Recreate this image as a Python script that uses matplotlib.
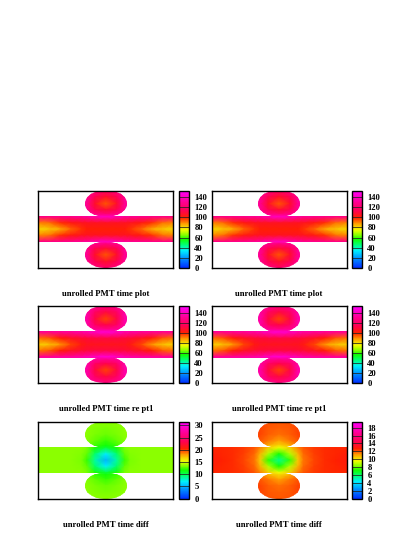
import numpy as np
import matplotlib
matplotlib.use("Agg")
import matplotlib.pyplot as plt
from matplotlib.colors import LinearSegmentedColormap
from matplotlib.path import Path
from matplotlib.patches import PathPatch
from matplotlib.transforms import Affine2D

plt.rcParams["font.family"] = ["Liberation Serif", "DejaVu Serif"]
plt.rcParams["font.weight"] = "bold"

W, H = 415, 537

# grid nodes, left half and top half only (the detector map is symmetric)
x_half = [0, .08, .16, .24, .32, .36, .42, .5]
y_half = [0, .08, .17, .25, .31, .34, .42, .5]

time_plot = [
    [130, 130, 130, 130, 130, 130, 125, 120],
    [130, 130, 130, 130, 130, 130, 114, 106],
    [130, 130, 130, 130, 130, 130, 106, 94],
    [130, 130, 130, 130, 130, 130, 114, 108],
    [130, 130, 130, 130, 130, 132, 128, 126],
    [126, 126, 127, 128, 130, 132, 136, 140],
    [90, 92, 98, 102, 104, 105, 105, 105],
    [80, 82, 86, 93, 98, 100, 100, 100],
]
time_re_pt1 = [
    [134, 134, 134, 134, 134, 134, 130, 126],
    [134, 134, 134, 134, 134, 134, 118, 110],
    [134, 134, 134, 134, 134, 134, 110, 96],
    [134, 134, 134, 134, 134, 134, 118, 112],
    [134, 134, 134, 134, 134, 136, 132, 130],
    [130, 130, 131, 132, 134, 136, 140, 144],
    [92, 94, 100, 105, 108, 109, 110, 110],
    [81, 83, 88, 96, 102, 104, 104, 104],
]
diff_left = [
    [13.5, 13.5, 13.5, 13.5, 13.5, 13.5, 13.5, 13.5],
    [13.5, 13.5, 13.5, 13.5, 13.5, 13.5, 13.3, 13.2],
    [13.5, 13.5, 13.5, 13.5, 13.5, 13.5, 13.2, 13],
    [13.5, 13.5, 13.5, 13.5, 13.5, 13.3, 12.8, 12.3],
    [13.5, 13.5, 13.5, 13.5, 13.5, 13.2, 12.3, 11.5],
    [13.5, 13.5, 13.5, 13.5, 13.5, 13.2, 11.8, 10.5],
    [13.5, 13.5, 13.5, 13.5, 13.4, 12.8, 9.5, 7],
    [13.5, 13.5, 13.5, 13.5, 13.2, 12.2, 8.5, 5],
]
diff_right = [
    [12.2, 12.2, 12.2, 12.2, 12.2, 12.2, 12.1, 12],
    [12.2, 12.2, 12.2, 12.2, 12.2, 12.2, 12, 11.9],
    [12.2, 12.2, 12.2, 12.2, 12.2, 12.2, 11.9, 11.7],
    [12.2, 12.2, 12.2, 12.2, 12.2, 12, 11.6, 11.1],
    [12.2, 12.2, 12.2, 12.2, 12.1, 11.7, 10.8, 10.2],
    [12.6, 12.6, 12.5, 12.4, 12, 11.5, 10.3, 9.5],
    [12.8, 12.6, 12.5, 12.3, 11.8, 10.8, 8.8, 7.2],
    [12.9, 12.7, 12.5, 12.2, 11.6, 10.4, 7.5, 5.5],
]

titles = ["unrolled PMT time plot", "unrolled PMT time plot",
          "unrolled PMT time re pt1", "unrolled PMT time re pt1",
          "unrolled PMT time diff", "unrolled PMT time diff"]
maps = [time_plot, time_plot, time_re_pt1, time_re_pt1, diff_left, diff_right]
vmaxes = [153, 153, 153, 153, 31.5, 19.5]
ticks = [list(range(0, 141, 20))] * 4 + [list(range(0, 31, 5)), list(range(0, 19, 2))]

palette = LinearSegmentedColormap.from_list("pal", [
    (0, "#0030ff"), (.12, "#0090ff"), (.22, "#00f0ff"), (.29, "#00ff80"),
    (.37, "#10ff00"), (.43, "#90ff00"), (.49, "#f0ff00"), (.57, "#ffa000"),
    (.65, "#ff2000"), (.74, "#ff0050"), (.85, "#ff0090"), (1, "#ff00ff")])

col_left = [38.3, 211.5]
bar_left = [179, 352]
row_top = [190.7, 306, 421.7]
title_y = [294, 409, 525]
title_x = [106, 279]

fig = plt.figure(figsize=(W / 100, H / 100), dpi=100)


def box(left, top, w, h):
    return [left / W, 1 - (top + h) / H, w / W, h / H]


x_nodes = np.r_[x_half, 1 - np.array(x_half[-2::-1])]
y_nodes = np.r_[y_half, 1 - np.array(y_half[-2::-1])]

for i in range(6):
    row, col = i // 2, i % 2
    half = np.array(maps[i], dtype=float)
    top_half = np.c_[half, half[:, -2::-1]]
    z = np.r_[top_half, top_half[-2::-1]]

    ax = fig.add_axes(box(col_left[col], row_top[row], 135, 77))
    mesh = ax.pcolormesh(x_nodes, y_nodes, z, cmap=palette, vmin=0, vmax=vmaxes[i],
                         shading="gouraud")
    ax.set_xlim(0, 1)
    ax.set_ylim(1, 0)
    ax.set_xticks([])
    ax.set_yticks([])
    for s in ax.spines.values():
        s.set_linewidth(1.0)

    # barrel and the two end caps
    outline = Path.make_compound_path(
        Path.unit_rectangle().transformed(Affine2D().scale(1, .34).translate(0, .33)),
        Path.unit_circle().transformed(Affine2D().scale(.156, .172).translate(.5, .167)),
        Path.unit_circle().transformed(Affine2D().scale(.156, .172).translate(.5, .833)))
    clip = PathPatch(outline, transform=ax.transData, fc="none", ec="none")
    ax.add_patch(clip)
    mesh.set_clip_path(clip)

    cax = fig.add_axes(box(bar_left[col], row_top[row], 9.5, 77))
    cb = fig.colorbar(mesh, cax=cax, ticks=ticks[i])
    cb.outline.set_linewidth(1.0)
    cax.tick_params(length=0, pad=4.2, labelsize=6.2)
    for t in ticks[i]:
        cax.axhline(t, color="#222222", lw=0.7, alpha=0.8)

    fig.text(title_x[col] / W, 1 - title_y[row] / H, titles[i], fontsize=6.2,
             ha="center", va="center")

fig.savefig("out.png", dpi=100)
